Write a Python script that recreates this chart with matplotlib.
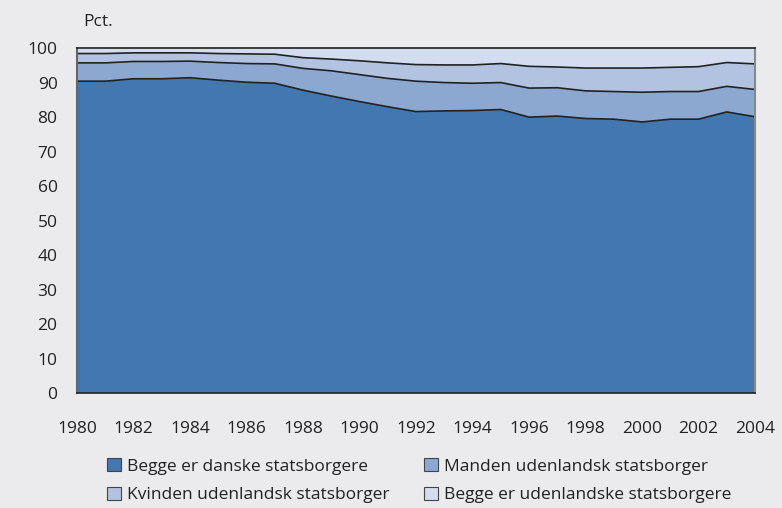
import matplotlib
matplotlib.use("Agg")
import matplotlib.pyplot as plt
from matplotlib.patches import Patch
from matplotlib import font_manager
import numpy as np

names = {f.name for f in font_manager.fontManager.ttflist}
fam = [f for f in ['Open Sans', 'DejaVu Sans'] if f in names]
plt.rcParams['font.family'] = fam

years = list(range(1980, 2005))
begge_danske = [90.4, 90.4, 91.1, 91.1, 91.4, 90.7, 90.1, 89.8, 87.8, 86.1, 84.5, 83.0, 81.6,
                81.8, 81.9, 82.2, 80.0, 80.3, 79.6, 79.4, 78.6, 79.4, 79.4, 81.5, 80.1]
manden_udl = [5.3, 5.3, 5.0, 5.0, 4.8, 5.1, 5.4, 5.6, 6.3, 7.3, 7.8, 8.2, 8.8,
              8.2, 7.9, 7.8, 8.4, 8.2, 8.0, 8.0, 8.6, 8.0, 8.0, 7.4, 7.9]
kvinden_udl = [2.7, 2.7, 2.5, 2.5, 2.4, 2.6, 2.8, 2.8, 3.1, 3.4, 4.0, 4.5, 4.8,
               5.1, 5.3, 5.5, 6.3, 6.0, 6.6, 6.8, 7.0, 7.0, 7.2, 6.9, 7.4]
begge_udl = [1.6, 1.6, 1.4, 1.4, 1.4, 1.6, 1.7, 1.8, 2.8, 3.2, 3.7, 4.3, 4.8,
             4.9, 4.9, 4.5, 5.3, 5.5, 5.8, 5.8, 5.8, 5.6, 5.4, 4.2, 4.6]
labels = ['Begge er danske statsborgere', 'Manden udenlandsk statsborger',
          'Kvinden udenlandsk statsborger', 'Begge er udenlandske statsborgere']
colors = ['#4277b0', '#8ca8d0', '#b1c3e1', '#d4ddef']

FS = 12.5
bg = '#ebebed'
fig = plt.figure(figsize=(7.82, 5.08), dpi=100, facecolor=bg)
ax = fig.add_axes([0.0985, 0.2254, 0.867, 0.6801])
ax.set_facecolor('white')

series = [begge_danske, manden_udl, kvinden_udl, begge_udl]
ax.stackplot(years, *series, colors=colors, linewidth=0)
cum = np.cumsum(np.array(series), axis=0)
for row in cum[:3]:
    ax.plot(years, row, color='#222222', lw=1.2, solid_joinstyle='round')

ax.set_xlim(1980, 2004)
ax.set_ylim(0, 100)
ax.set_xticks(range(1980, 2005, 2))
ax.set_yticks(range(0, 101, 10))
ax.tick_params(axis='both', length=0, labelsize=FS, colors='#222222')
ax.tick_params(axis='x', pad=20)
ax.tick_params(axis='y', pad=14)
for s in ['top', 'bottom']:
    ax.spines[s].set_color('#222222')
    ax.spines[s].set_linewidth(1.2)
ax.spines['left'].set_color('#666666')
ax.spines['left'].set_linewidth(1.5)
ax.spines['right'].set_color('#888888')
ax.spines['right'].set_linewidth(1.5)

fig.text(0.107, 0.957, 'Pct.', fontsize=FS, color='#222222', va='center', ha='left')

handles = [Patch(facecolor=c, edgecolor='#444444', linewidth=0.8) for c in colors]
order = [0, 2, 1, 3]
fig.legend([handles[i] for i in order], [labels[i] for i in order], ncol=2,
           loc='upper left', bbox_to_anchor=(0.1368, 0.098), frameon=False,
           fontsize=FS, handlelength=0.8, handleheight=0.8, handletextpad=0.35,
           columnspacing=2.0, labelspacing=0.68, borderaxespad=0, borderpad=0,
           labelcolor='#222222')

fig.savefig('out.png', dpi=100, facecolor=bg)
